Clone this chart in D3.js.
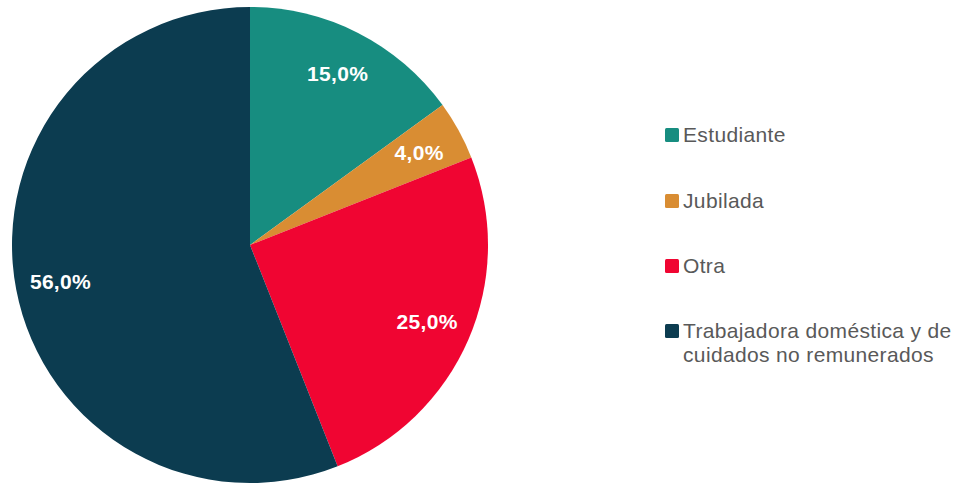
<!DOCTYPE html>
<html>
<head>
<meta charset="utf-8">
<script src="https://cdn.jsdelivr.net/npm/d3@7"></script>
<style>
  body { margin: 0; background: #fff; }
  svg { display: block; font-family: "Liberation Sans", Arial, sans-serif; }
</style>
</head>
<body>
<svg id="chart" width="958" height="485"></svg>
<script>
// data
const categories = ["Estudiante", "Jubilada", "Otra", "Trabajadora doméstica y de cuidados no remunerados"];
const values = [15.0, 4.0, 25.0, 56.0];
const colors = ["#178d80", "#d98d33", "#f00532", "#0c3c50"];
const legendLines = [["Estudiante"], ["Jubilada"], ["Otra"], ["Trabajadora doméstica y de", "cuidados no remunerados"]];

const svg = d3.select("#chart");
const cx = 250, cy = 245, radius = 238;

const data = categories.map((c, i) => ({ name: c, value: values[i], color: colors[i] }));

const pie = d3.pie().value(d => d.value).sort(null);
const arc = d3.arc().innerRadius(0).outerRadius(radius);
const labelArc = d3.arc().innerRadius(193).outerRadius(193);

const g = svg.append("g").attr("transform", `translate(${cx},${cy})`);
const arcs = pie(data);

g.selectAll("path")
  .data(arcs)
  .join("path")
  .attr("d", arc)
  .attr("fill", d => d.data.color);

const fmt = v => v.toFixed(1).replace(".", ",") + "%";

g.selectAll("text")
  .data(arcs)
  .join("text")
  .attr("transform", d => `translate(${labelArc.centroid(d)})`)
  .attr("text-anchor", "middle")
  .attr("dy", "0.36em")
  .attr("fill", "#fff")
  .style("font-weight", "bold")
  .style("font-size", "21px")
  .style("letter-spacing", "0.3px")
  .text(d => fmt(d.data.value));

// legend
const legend = svg.append("g").attr("transform", "translate(665,0)");
const rowY = [142, 208, 273, 338];

const item = legend.selectAll("g")
  .data(data)
  .join("g")
  .attr("transform", (d, i) => `translate(0,${rowY[i]})`);

item.append("rect")
  .attr("x", 0).attr("y", -14)
  .attr("width", 14).attr("height", 14)
  .attr("rx", 1.5)
  .attr("fill", d => d.color);

item.append("text")
  .attr("x", 18)
  .attr("fill", "#595959")
  .style("font-size", "21px")
  .style("letter-spacing", "0.35px")
  .selectAll("tspan")
  .data((d, i) => legendLines[i])
  .join("tspan")
  .attr("x", 18)
  .attr("dy", (d, j) => j === 0 ? 0 : 24)
  .text(d => d);
</script>
</body>
</html>
